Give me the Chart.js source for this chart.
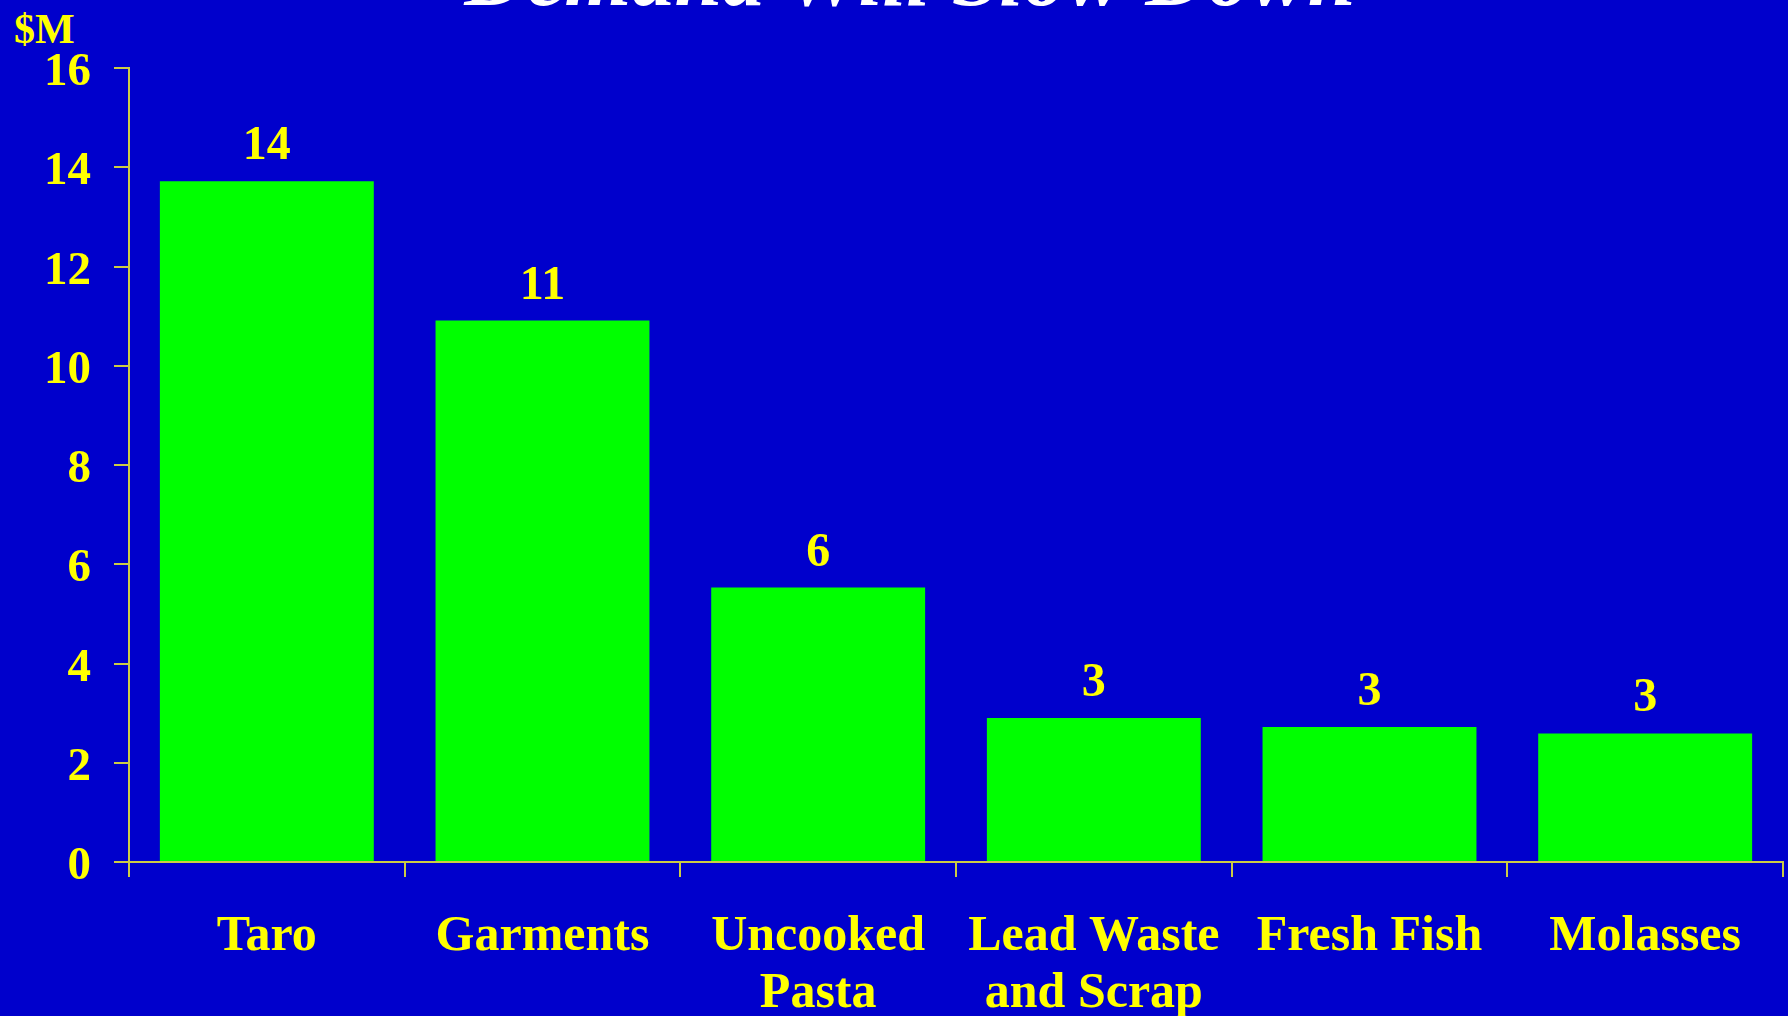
<!DOCTYPE html>
<html>
<head>
<meta charset="utf-8">
<script src="https://cdn.jsdelivr.net/npm/chart.js@4/dist/chart.umd.min.js"></script>
<style>
  body { margin: 0; background: #0000cc; overflow: hidden; width: 1788px; height: 1016px; position: relative; }
  #titre { position: absolute; left: 0; width: 1820px; top: -67px; text-align: center; color: #ffffff;
           font-family: "Liberation Serif", serif; font-style: italic; font-weight: bold; font-size: 86px; line-height: 1; }
  #unite { position: absolute; left: 14px; top: 8px; color: #ffff00;
           font-family: "Liberation Serif", serif; font-weight: bold; font-size: 42px; line-height: 1; }
  canvas { position: absolute; left: 0; top: 0; }
</style>
</head>
<body>
<div id="titre">Demand Will Slow Down</div>
<div id="unite">$M</div>
<canvas id="graph" width="1788" height="1016"></canvas>
<script>
// Données
let categories = ["Taro", "Garments", ["Uncooked", "Pasta"], ["Lead Waste", "and Scrap"], "Fresh Fish", "Molasses"];
let valeurs = [13.72, 10.91, 5.53, 2.90, 2.72, 2.59];
let yTicks = [0, 2, 4, 6, 8, 10, 12, 14, 16];

let jaune = "#ffff00";
let couleurAxe = "#cccc44";

// Plugin pour écrire la valeur au-dessus des barres
let etiquettes = {
  id: "etiquettes",
  afterDatasetsDraw(chart) {
    let ctx = chart.ctx;
    let meta = chart.getDatasetMeta(0);
    ctx.save();
    ctx.fillStyle = jaune;
    ctx.font = "bold 48px 'Liberation Serif'";
    ctx.textAlign = "center";
    ctx.textBaseline = "alphabetic";
    meta.data.forEach(function (bar, i) {
      ctx.fillText(String(Math.round(valeurs[i])), bar.x, bar.y - 22);
    });
    ctx.restore();
  }
};

const graph = new Chart(document.getElementById("graph"), {
  type: "bar",
  data: {
    labels: categories,
    datasets: [{
      data: valeurs,
      backgroundColor: "#00ff00",
      borderWidth: 0,
      categoryPercentage: 1,
      barPercentage: 0.776
    }]
  },
  options: {
    responsive: false,
    animation: false,
    devicePixelRatio: 1,
    layout: { padding: { top: 68, right: 5, left: 0, bottom: 0 } },
    plugins: { legend: { display: false }, tooltip: { enabled: false } },
    scales: {
      x: {
        grid: { display: true, offset: true, drawOnChartArea: false, drawTicks: true, tickLength: 15, color: couleurAxe, lineWidth: 2 },
        border: { color: couleurAxe, width: 2 },
        ticks: {
          color: jaune,
          padding: 32,
          maxRotation: 0,
          autoSkip: false,
          font: { family: "Liberation Serif", weight: "bold", size: 50, lineHeight: 1.14 }
        },
        afterFit: function (scale) { scale.height = 154; }
      },
      y: {
        min: 0,
        max: 16,
        afterBuildTicks: function (scale) { scale.ticks = yTicks.map(function (v) { return { value: v }; }); },
        grid: { drawOnChartArea: false, drawTicks: true, tickLength: 15, color: couleurAxe, lineWidth: 2 },
        border: { color: couleurAxe, width: 2 },
        ticks: {
          color: jaune,
          padding: 23,
          labelOffset: 5,
          font: { family: "Liberation Serif", weight: "bold", size: 47 }
        },
        afterFit: function (scale) { scale.width = 129; }
      }
    }
  },
  plugins: [etiquettes]
});
</script>
</body>
</html>
